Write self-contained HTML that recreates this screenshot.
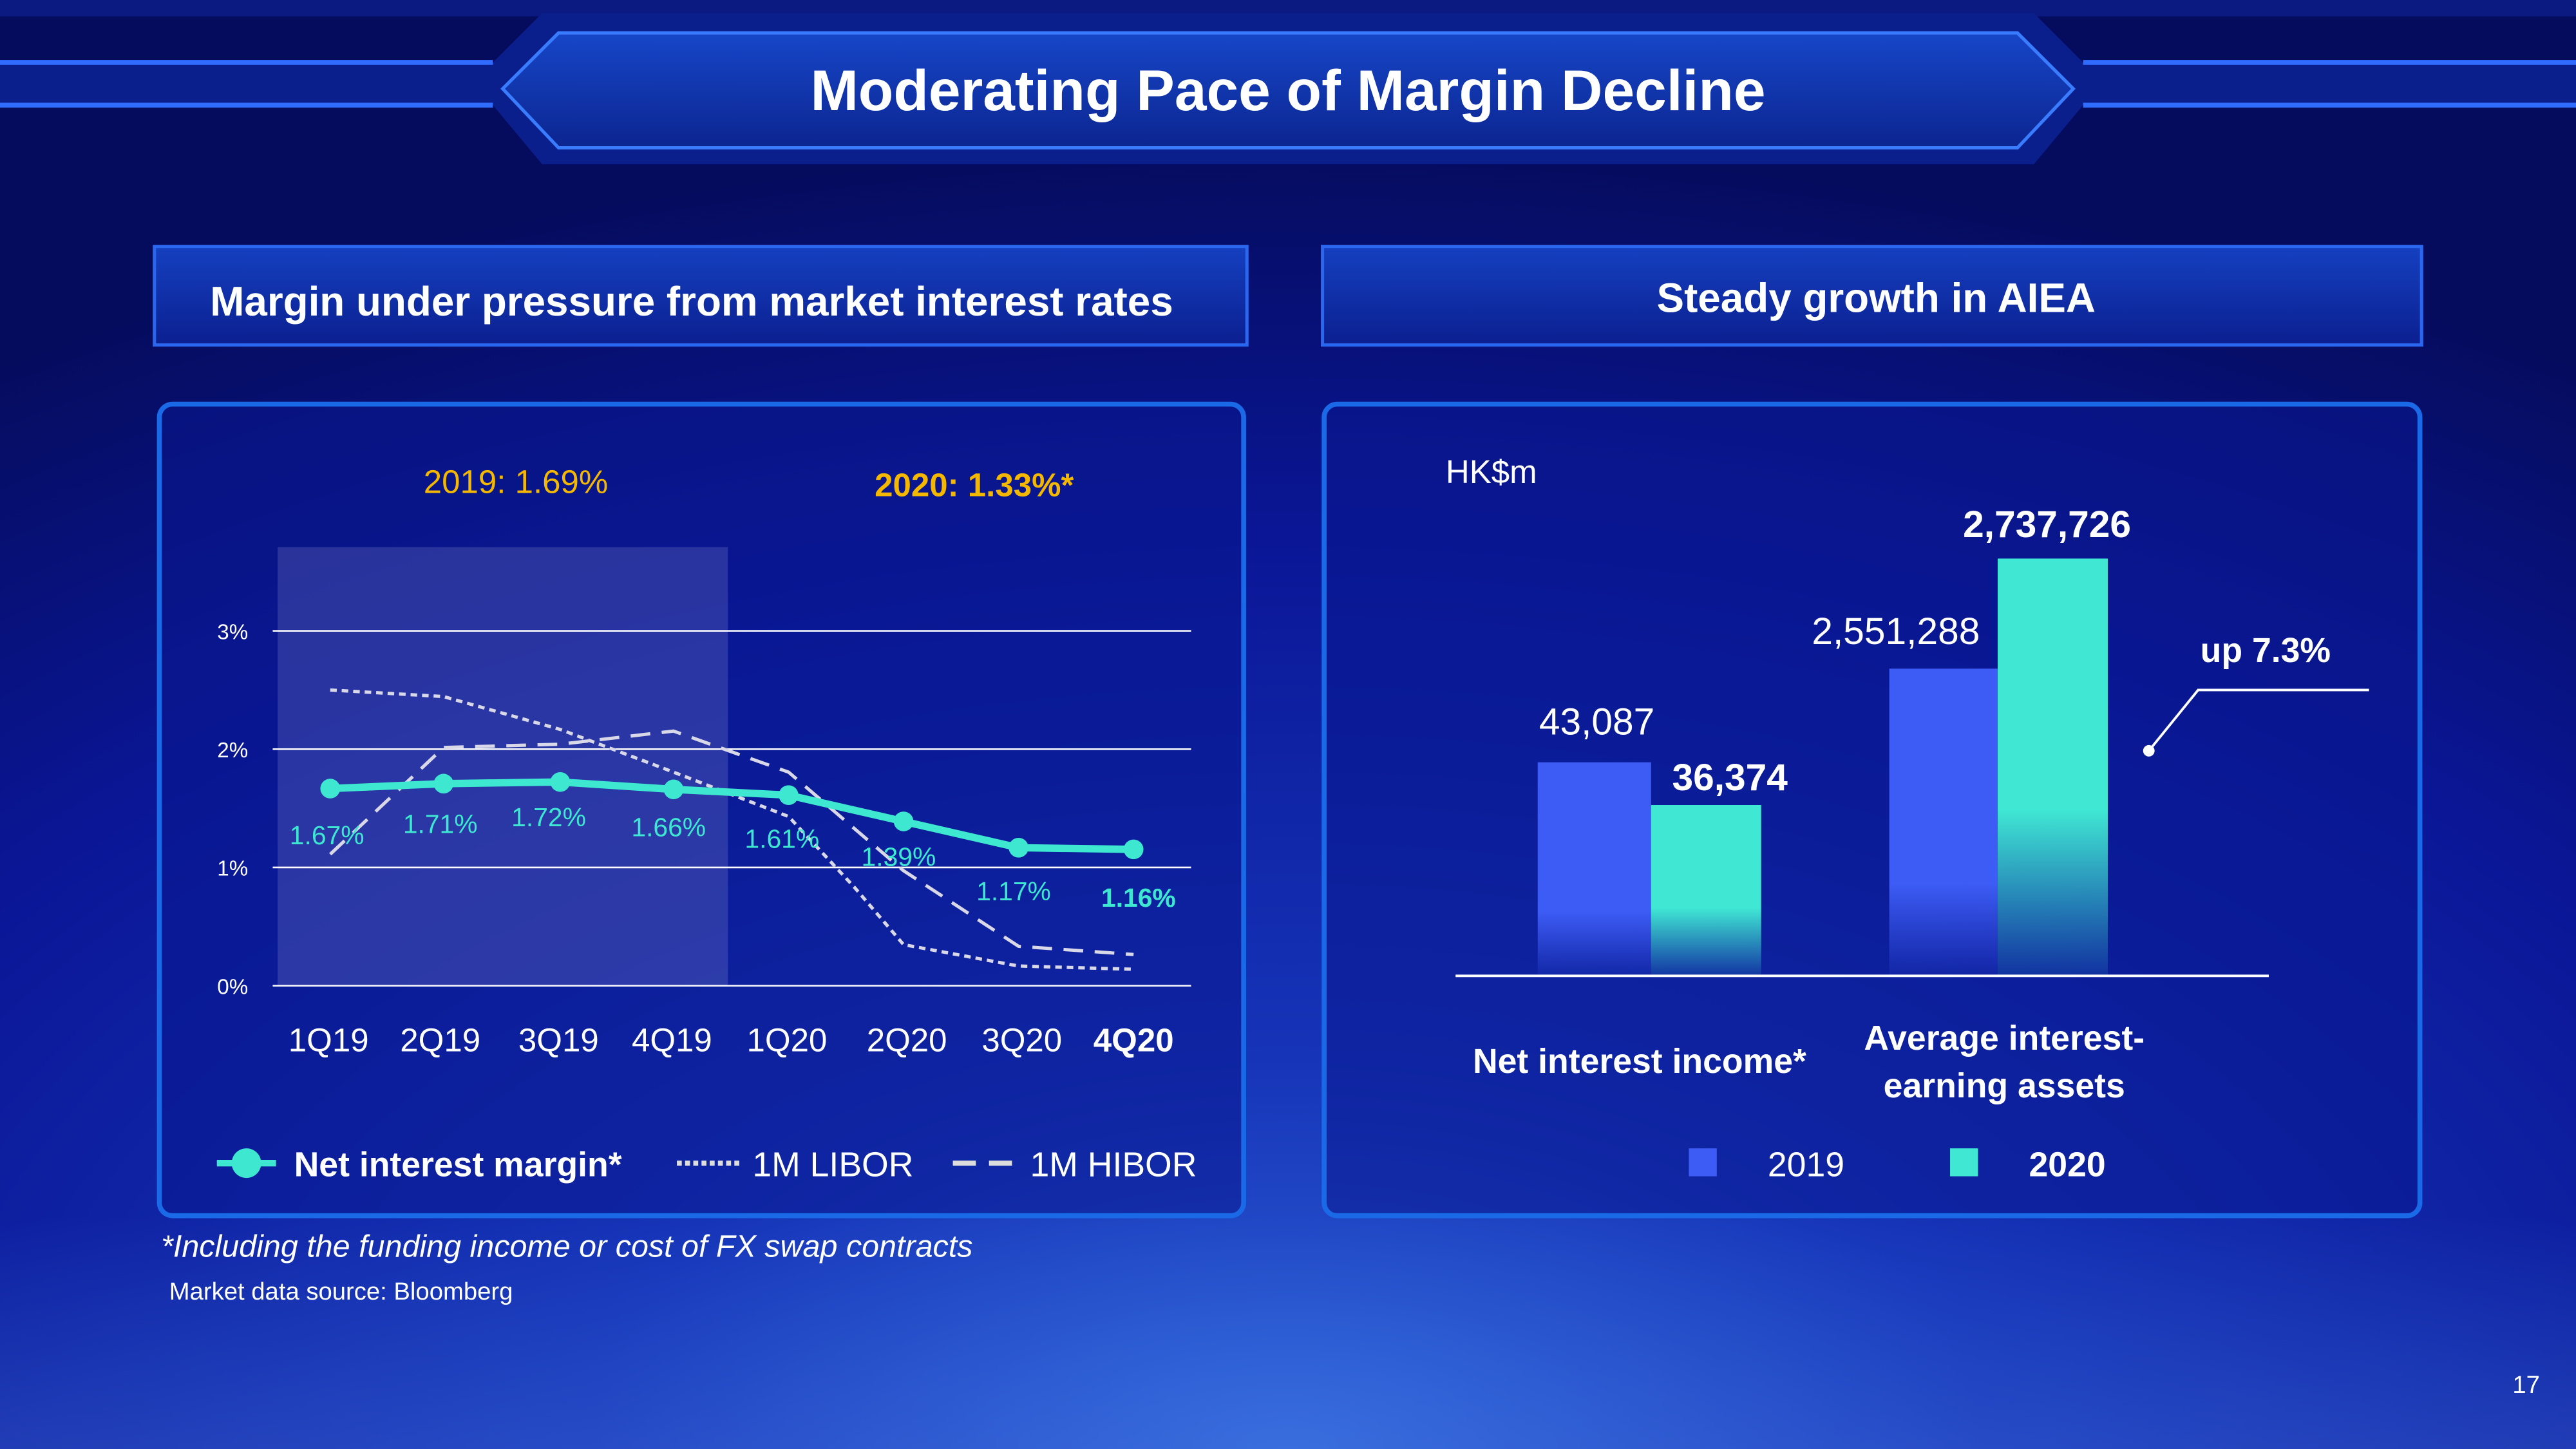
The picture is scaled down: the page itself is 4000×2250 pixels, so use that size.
<!DOCTYPE html>
<html><head><meta charset="utf-8"><style>
html,body{margin:0;padding:0;background:#07106a;}
svg{display:block;}
text{font-family:"Liberation Sans",sans-serif;}
</style></head><body>
<svg width="4000" height="2250" viewBox="0 0 1568 882" xmlns="http://www.w3.org/2000/svg">
<defs>
<radialGradient id="bg" cx="0.5" cy="1.0" r="0.9">
<stop offset="0" stop-color="#2f62d8"/>
<stop offset="0.3" stop-color="#1634b8"/>
<stop offset="0.7" stop-color="#0a1696"/>
<stop offset="1" stop-color="#050c5e"/>
</radialGradient>
<linearGradient id="ban" x1="0" y1="0" x2="0" y2="1">
<stop offset="0" stop-color="#1646c8"/><stop offset="1" stop-color="#0c2590"/>
</linearGradient>
<linearGradient id="hdr" x1="0" y1="0" x2="0" y2="1">
<stop offset="0" stop-color="#1540c0"/><stop offset="1" stop-color="#0b1f90"/>
</linearGradient>
<linearGradient id="b1" x1="0" y1="0" x2="0" y2="1">
<stop offset="0" stop-color="#3d5cf5"/><stop offset="0.7" stop-color="#3d5cf5"/><stop offset="1" stop-color="#3d5cf5" stop-opacity="0.1"/>
</linearGradient>
<linearGradient id="b2" x1="0" y1="0" x2="0" y2="1">
<stop offset="0" stop-color="#40e8d4"/><stop offset="0.6" stop-color="#40e8d4"/><stop offset="1" stop-color="#40e8d4" stop-opacity="0.1"/>
</linearGradient>
<linearGradient id="glow" x1="0" y1="0" x2="0" y2="1">
<stop offset="0" stop-color="#4aa0ff" stop-opacity="0"/><stop offset="1" stop-color="#5a90f0" stop-opacity="0.25"/>
</linearGradient>
</defs>
<rect width="1568" height="882" fill="url(#bg)"/>
<rect x="0" y="740" width="1568" height="142" fill="url(#glow)"/>
<rect x="0" y="0" width="1568" height="10" fill="#0a1a80"/>
<path d="M0 38 L300 38 L330 8 L1238 8 L1268 38 L1568 38 L1568 64 L1268 64 L1238 100 L330 100 L300 64 L0 64 Z" fill="#0b1f8c"/>
<path d="M340 20 L1228 20 L1262 54 L1228 90 L340 90 L306 54 Z" fill="url(#ban)" stroke="#3a7cff" stroke-width="2"/>
<path d="M0 38 L300 38 M0 64 L300 64 M1268 38 L1568 38 M1268 64 L1568 64" stroke="#2f6cff" stroke-width="3"/>
<text x="784" y="67" text-anchor="middle" font-size="35" font-weight="bold" fill="#fff">Moderating Pace of Margin Decline</text>
<rect x="94" y="150" width="665" height="60" fill="url(#hdr)" stroke="#2a66ee" stroke-width="2"/>
<text x="421" y="192" text-anchor="middle" font-size="25" font-weight="bold" fill="#fff">Margin under pressure from market interest rates</text>
<rect x="805" y="150" width="669" height="60" fill="url(#hdr)" stroke="#2a66ee" stroke-width="2"/>
<text x="1142" y="190" text-anchor="middle" font-size="25" font-weight="bold" fill="#fff">Steady growth in AIEA</text>
<rect x="97" y="246" width="660" height="494" rx="8" fill="#0a1890" fill-opacity="0.55" stroke="#1a6ae8" stroke-width="3"/>
<rect x="806" y="246" width="667" height="494" rx="8" fill="#0a1890" fill-opacity="0.55" stroke="#1a6ae8" stroke-width="3"/>
<text x="314" y="300" text-anchor="middle" font-size="20" fill="#f5b800">2019: 1.69%</text>
<text x="593" y="302" text-anchor="middle" font-size="20" font-weight="bold" fill="#f5b800">2020: 1.33%*</text>
<rect x="169" y="333" width="274" height="267" fill="#8a90d0" fill-opacity="0.25"/>
<g stroke="#ffffff" stroke-width="1">
<line x1="166" y1="384" x2="725" y2="384"/><line x1="166" y1="456" x2="725" y2="456"/>
<line x1="166" y1="528" x2="725" y2="528"/><line x1="166" y1="600" x2="725" y2="600"/>
</g>
<g font-size="13" fill="#fff" text-anchor="end">
<text x="151" y="389">3%</text><text x="151" y="461">2%</text><text x="151" y="533">1%</text><text x="151" y="605">0%</text>
</g>
<polyline points="201,420 270,424 341,444 410,470 480,497 520,540 550,575 620,588 690,590" fill="none" stroke="#d8d8e8" stroke-width="2" stroke-dasharray="4,3"/>
<polyline points="201,520 270,455 341,453 410,445 480,470 550,530 620,576 690,581" fill="none" stroke="#d8d8e8" stroke-width="2" stroke-dasharray="12,7"/>
<polyline points="201,480 270,477 341,476 410,480.5 480,484 550,500 620,516 690,517" fill="none" stroke="#3ee8d0" stroke-width="4.5"/>
<g fill="#3ee8d0">
<circle cx="201" cy="480" r="6"/><circle cx="270" cy="477" r="6"/><circle cx="341" cy="476" r="6"/><circle cx="410" cy="480.5" r="6"/>
<circle cx="480" cy="484" r="6"/><circle cx="550" cy="500" r="6"/><circle cx="620" cy="516" r="6"/><circle cx="690" cy="517" r="6"/>
</g>
<g font-size="16" fill="#3ee8d0" text-anchor="middle">
<text x="199" y="514">1.67%</text><text x="268" y="507">1.71%</text><text x="334" y="503">1.72%</text><text x="407" y="509">1.66%</text>
<text x="476" y="516">1.61%</text><text x="547" y="527">1.39%</text><text x="617" y="548">1.17%</text>
<text x="693" y="552" font-weight="bold">1.16%</text>
</g>
<g font-size="20" fill="#fff" text-anchor="middle">
<text x="200" y="640">1Q19</text><text x="268" y="640">2Q19</text><text x="340" y="640">3Q19</text><text x="409" y="640">4Q19</text>
<text x="479" y="640">1Q20</text><text x="552" y="640">2Q20</text><text x="622" y="640">3Q20</text>
<text x="690" y="640" font-weight="bold">4Q20</text>
</g>
<line x1="132" y1="708" x2="168" y2="708" stroke="#3ee8d0" stroke-width="4"/><circle cx="150" cy="708" r="9" fill="#3ee8d0"/>
<text x="179" y="716" font-size="21" font-weight="bold" fill="#fff">Net interest margin*</text>
<line x1="412" y1="708" x2="450" y2="708" stroke="#ddd" stroke-width="3" stroke-dasharray="3,2"/>
<text x="458" y="716" font-size="21" fill="#fff">1M LIBOR</text>
<line x1="580" y1="708" x2="618" y2="708" stroke="#ddd" stroke-width="3" stroke-dasharray="14,8"/>
<text x="627" y="716" font-size="21" fill="#fff">1M HIBOR</text>
<text x="98" y="765" font-size="19" font-style="italic" fill="#fff">*Including the funding income or cost of FX swap contracts</text>
<text x="103" y="791" font-size="15" fill="#fff">Market data source: Bloomberg</text>
<text x="880" y="294" font-size="20" fill="#fff">HK$m</text>
<rect x="936" y="464" width="69" height="130" fill="url(#b1)"/>
<rect x="1005" y="490" width="67" height="104" fill="url(#b2)"/>
<rect x="1150" y="407" width="66" height="187" fill="url(#b1)"/>
<rect x="1216" y="340" width="67" height="254" fill="url(#b2)"/>
<line x1="886" y1="594" x2="1381" y2="594" stroke="#fff" stroke-width="1.5"/>
<g font-size="23" fill="#fff" text-anchor="middle">
<text x="972" y="447">43,087</text>
<text x="1053" y="481" font-weight="bold">36,374</text>
<text x="1154" y="392">2,551,288</text>
<text x="1246" y="327" font-weight="bold">2,737,726</text>
</g>
<text x="1379" y="403" text-anchor="middle" font-size="21" font-weight="bold" fill="#fff">up 7.3%</text>
<polyline points="1308,457 1338,420 1442,420" fill="none" stroke="#fff" stroke-width="1.5"/>
<circle cx="1308" cy="457" r="3.5" fill="#fff"/>
<g font-size="21" font-weight="bold" fill="#fff" text-anchor="middle">
<text x="998" y="653">Net interest income*</text>
<text x="1220" y="639">Average interest-</text>
<text x="1220" y="668">earning assets</text>
</g>
<rect x="1028" y="699" width="17" height="17" fill="#3d5cf5"/>
<text x="1076" y="716" font-size="21" fill="#fff">2019</text>
<rect x="1187" y="699" width="17" height="17" fill="#40e8d4"/>
<text x="1235" y="716" font-size="21" font-weight="bold" fill="#fff">2020</text>
<text x="1546" y="848" text-anchor="end" font-size="15" fill="#fff">17</text>
</svg>
</body></html>
